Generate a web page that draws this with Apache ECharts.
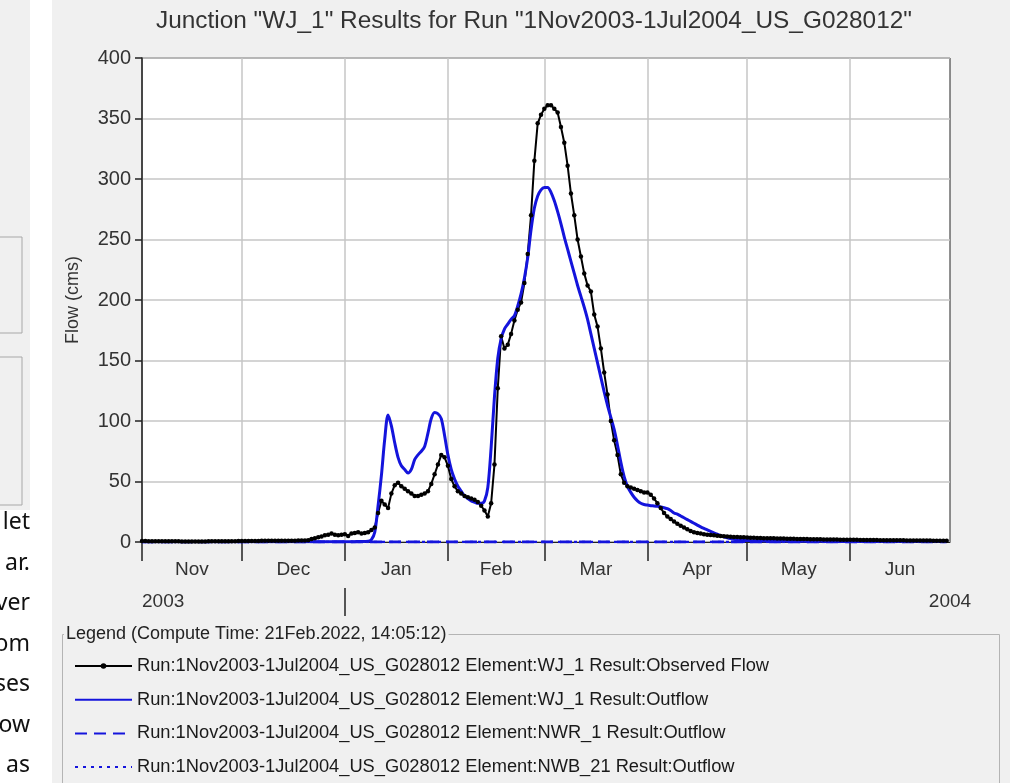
<!DOCTYPE html>
<html>
<head>
<meta charset="utf-8">
<script src="https://cdn.jsdelivr.net/npm/echarts@6/dist/echarts.min.js"></script>
<style>
  html, body { margin: 0; padding: 0; background: #fff; }
  #main { width: 1015px; height: 783px; }
</style>
</head>
<body>
<div id="main"></div>
<script>
// Daily flows (cms) from 1 Nov 2003 to 30 Jun 2004, one value per day.
const firstDay = [2003, 10, 1];

const observedFlow = [
  // Nov
  0.8,0.8,0.7,0.7,0.7,0.6,0.6,0.6,0.6,0.6,0.6,0.6,0.5,0.5,0.5,0.5,0.5,0.5,0.5,0.5,0.6,0.6,0.6,0.6,0.6,0.6,0.7,0.7,0.7,0.8,
  // Dec
  0.8,0.8,0.8,0.9,0.9,0.9,1,1,1,1,1,1,1,1,1,1.1,1.1,1.2,1.2,1.3,1.5,2.5,3,4,4.5,5.5,6,7,6,5.5,6,
  // Jan
  6.5,5,7,7.5,8,7,7.5,8,10,12,24,34,31,28,40,47,49,46,44,42,40,38,38,39,40,42,48,56,64,72,70,
  // Feb
  63,52,46,42,40,38,37,36,35,33,30,26,21,32,64,127,170,160,163,172,183,192,198,214,238,270,315,346,353,
  // Mar
  358,361,361,358,355,343,330,311,288,270,250,236,222,212,207,188,178,160,140,122,100,84,72,56,49,46,45,44,43,42,41,
  // Apr
  41,39,36,32,28,24,21,19,17,15,13.5,12,10.5,9,8,7.5,7,6.5,6,5.8,5.5,5.2,5,4.8,4.5,4.3,4.2,4.1,4,4,
  // May
  3.8,3.6,3.5,3.4,3.3,3.2,3.1,3,3,2.9,2.8,2.8,2.7,2.6,2.6,2.5,2.5,2.4,2.4,2.3,2.3,2.2,2.2,2.1,2.1,2,2,2,1.9,1.9,1.9,
  // Jun
  1.8,1.8,1.8,1.7,1.7,1.7,1.6,1.6,1.6,1.5,1.5,1.5,1.5,1.4,1.4,1.4,1.4,1.3,1.3,1.3,1.3,1.2,1.2,1.2,1.2,1.1,1.1,1.1,1.1,1.0
];

const wj1Outflow = [
  // Nov
  0.2,0.2,0.2,0.2,0.2,0.2,0.2,0.2,0.2,0.2,0.2,0.2,0.2,0.2,0.2,0.2,0.2,0.2,0.2,0.2,0.2,0.2,0.2,0.2,0.2,0.2,0.2,0.2,0.2,0.2,
  // Dec
  0.2,0.2,0.2,0.2,0.2,0.2,0.2,0.2,0.2,0.2,0.2,0.2,0.2,0.2,0.2,0.2,0.2,0.2,0.2,0.2,0.2,0.2,0.2,0.2,0.3,0.3,0.3,0.3,0.3,0.3,0.3,
  // Jan
  0.3,0.3,0.3,0.3,0.4,0.4,0.5,0.6,2,8,30,55,85,105,96,82,70,63,60,57,60,68,72,75,79,90,102,107,106,102,88,
  // Feb
  72,60,52,46,42,38,36,34,33,32,32,34,45,78,120,152,168,176,180,184,187,195,205,218,235,258,276,286,291,
  // Mar
  293,293,289,282,273,263,252,242,232,222,212,203,194,184,172,160,148,136,124,113,103,93,80,66,54,46,41,37,34,32,31,
  // Apr
  30.5,30,29.8,29.5,29,28.3,27.5,26,24,23,21.5,20,18.5,17,15.5,14,12.5,11.2,10,8.8,7.6,6.4,5.3,4.3,3.5,2.8,2.2,1.8,1.5,1.3,
  // May
  1.2,1.1,1.1,1.0,1.0,0.9,0.9,0.9,0.8,0.8,0.8,0.8,0.7,0.7,0.7,0.7,0.7,0.6,0.6,0.6,0.6,0.6,0.6,0.5,0.5,0.5,0.5,0.5,0.5,0.5,0.5,
  // Jun
  0.4,0.4,0.4,0.4,0.4,0.4,0.4,0.4,0.4,0.4,0.4,0.4,0.4,0.4,0.4,0.4,0.4,0.4,0.4,0.4,0.4,0.4,0.4,0.4,0.4,0.4,0.4,0.4,0.4,0.4
];

const nwr1Outflow = [
  0,0,0,0,0,0,0,0,0,0,0,0,0,0,0,0,0,0,0,0,0,0,0,0,0,0,0,0,0,0,
  0,0,0,0,0,0,0,0,0,0,0,0,0,0,0,0,0,0,0,0,0,0,0,0,0,0,0,0,0,0,0,
  0,0,0,0,0,0,0,0,0,0,0,0,0,0,0,0,0,0,0,0,0,0,0,0,0,0,0,0,0,0,0,
  0,0,0,0,0,0,0,0,0,0,0,0,0,0,0,0,0,0,0,0,0,0,0,0,0,0,0,0,0,
  0,0,0,0,0,0,0,0,0,0,0,0,0,0,0,0,0,0,0,0,0,0,0,0,0,0,0,0,0,0,0,
  0,0,0,0,0,0,0,0,0,0,0,0,0,0,0,0,0,0,0,0,0,0,0,0,0,0,0,0,0,0,
  0,0,0,0,0,0,0,0,0,0,0,0,0,0,0,0,0,0,0,0,0,0,0,0,0,0,0,0,0,0,0,
  0,0,0,0,0,0,0,0,0,0,0,0,0,0,0,0,0,0,0,0,0,0,0,0,0,0,0,0,0,0
];

const nwb21Outflow = [
  0,0,0,0,0,0,0,0,0,0,0,0,0,0,0,0,0,0,0,0,0,0,0,0,0,0,0,0,0,0,
  0,0,0,0,0,0,0,0,0,0,0,0,0,0,0,0,0,0,0,0,0,0,0,0,0,0,0,0,0,0,0,
  0,0,0,0,0,0,0,0,0,0,0,0,0,0,0,0,0,0,0,0,0,0,0,0,0,0,0,0,0,0,0,
  0,0,0,0,0,0,0,0,0,0,0,0,0,0,0,0,0,0,0,0,0,0,0,0,0,0,0,0,0,
  0,0,0,0,0,0,0,0,0,0,0,0,0,0,0,0,0,0,0,0,0,0,0,0,0,0,0,0,0,0,0,
  0,0,0,0,0,0,0,0,0,0,0,0,0,0,0,0,0,0,0,0,0,0,0,0,0,0,0,0,0,0,
  0,0,0,0,0,0,0,0,0,0,0,0,0,0,0,0,0,0,0,0,0,0,0,0,0,0,0,0,0,0,0,
  0,0,0,0,0,0,0,0,0,0,0,0,0,0,0,0,0,0,0,0,0,0,0,0,0,0,0,0,0,0
];

const seriesNames = [
  'Run:1Nov2003-1Jul2004_US_G028012 Element:WJ_1 Result:Observed Flow',
  'Run:1Nov2003-1Jul2004_US_G028012 Element:WJ_1 Result:Outflow',
  'Run:1Nov2003-1Jul2004_US_G028012 Element:NWR_1 Result:Outflow',
  'Run:1Nov2003-1Jul2004_US_G028012 Element:NWB_21 Result:Outflow'
];

// Axis labelling
const monthLabels = ['Nov', 'Dec', 'Jan', 'Feb', 'Mar', 'Apr', 'May', 'Jun'];
const monthStarts = [[2003,10,1],[2003,11,1],[2004,0,1],[2004,1,1],[2004,2,1],[2004,3,1],[2004,4,1],[2004,5,1]];
const periodEnd = [2004, 6, 1];
const yearLabels = ['2003', '2004'];
const yearBreak = [2004, 0, 1];
const yTicks = [0, 50, 100, 150, 200, 250, 300, 350, 400];

const chartTitle = 'Junction "WJ_1" Results for Run "1Nov2003-1Jul2004_US_G028012"';
const legendTitle = 'Legend (Compute Time: 21Feb.2022, 14:05:12)';
const sideText = ['let', 'ar.', 'ver', 'om', 'ses', 'ow', 'as'];

// ---------------------------------------------------------------------------
// Time is carried as epoch milliseconds on a plain value axis so that the
// month boundaries and mid-month labels can be placed explicitly.
const t = (a) => new Date(a[0], a[1], a[2]).getTime();
const dayTime = (i) => new Date(firstDay[0], firstDay[1], firstDay[2] + i).getTime();
const toPairs = (arr) => arr.map((v, i) => [dayTime(i), v]);

const tMin = t(firstDay);
const tMax = t(periodEnd);
const tickTimes = monthStarts.map(t);
const bounds = tickTimes.concat([tMax]);
const midTimes = monthStarts.map((m, i) => (bounds[i] + bounds[i + 1]) / 2);

const FONT = '"Liberation Sans", Arial, sans-serif';
const BLUE = '#1414dc';
const GRIDLINE = '#c6c6c6';

const chart = echarts.init(document.getElementById('main'), null, { renderer: 'canvas' });

const graphics = [
  // surrounding page pieces
  { type: 'rect', z: -100, shape: { x: 0, y: 0, width: 30, height: 510 }, style: { fill: '#f0f0f0' } },
  { type: 'rect', z: -99, shape: { x: -2, y: 237, width: 24, height: 96 }, style: { fill: '#f0f0f0', stroke: '#a8a8a8', lineWidth: 1 } },
  { type: 'rect', z: -99, shape: { x: -2, y: 357, width: 24, height: 148 }, style: { fill: '#f0f0f0', stroke: '#a8a8a8', lineWidth: 1 } },
  // chart panel
  { type: 'rect', z: -100, shape: { x: 52, y: 0, width: 958, height: 783 }, style: { fill: '#f0f0f0' } },
  // legend frame
  { type: 'rect', z: 5, shape: { x: 62.5, y: 634.5, width: 937, height: 170 }, style: { fill: 'none', stroke: '#b4b4b4', lineWidth: 1 } },
  { type: 'text', z: 6, x: 64, y: 625, style: { text: legendTitle, font: '18px ' + FONT, fill: '#222', backgroundColor: '#f0f0f0', padding: [0, 2, 0, 2] } }
];
sideText.forEach((s, i) => {
  graphics.push({ type: 'text', z: 6, x: 30, y: 511 + i * 40.5,
    style: { text: s, font: '23px "Noto Sans", sans-serif', fill: '#111', align: 'right' } });
});

// line-only legend samples for the simulated series
const hideMarker = { opacity: 0 };

const option = {
  animation: false,
  backgroundColor: '#fff',
  graphic: graphics,
  title: {
    text: chartTitle,
    left: 151, top: 4,
    textStyle: { fontFamily: FONT, fontSize: 24.4, fontWeight: 'normal', color: '#333' }
  },
  legend: {
    orient: 'vertical',
    left: 69, top: 652,
    itemWidth: 57, itemHeight: 7, itemGap: 15.7,
    textStyle: { fontFamily: FONT, fontSize: 18.3, color: '#1a1a1a' },
    data: [
      { name: seriesNames[0] },
      { name: seriesNames[1], itemStyle: hideMarker },
      { name: seriesNames[2], itemStyle: hideMarker },
      { name: seriesNames[3], itemStyle: hideMarker }
    ]
  },
  grid: {
    left: 142, right: 65, top: 58, bottom: 241,
    show: true, backgroundColor: '#fff', borderColor: '#222', borderWidth: 1
  },
  xAxis: [
    {
      type: 'value', min: tMin, max: tMax,
      axisLine: { show: true, onZero: false, lineStyle: { color: '#222', width: 1 } },
      axisTick: { show: true, customValues: tickTimes, length: 19, lineStyle: { color: '#222', width: 1.5 } },
      axisLabel: {
        customValues: midTimes, margin: 18,
        fontFamily: FONT, fontSize: 19, color: '#333',
        formatter: (v) => monthLabels[midTimes.indexOf(v)]
      },
      splitLine: { show: true, lineStyle: { color: GRIDLINE, width: 1.5 } }
    },
    {
      type: 'value', min: tMin, max: tMax, position: 'bottom', offset: 46,
      axisLine: { show: false, onZero: false },
      axisTick: { show: true, customValues: [t(yearBreak)], length: 28, lineStyle: { color: '#222', width: 1.5 } },
      axisLabel: {
        customValues: [tMin, tMax], margin: 4,
        alignMinLabel: 'left', alignMaxLabel: 'center',
        fontFamily: FONT, fontSize: 19, color: '#333',
        formatter: (v) => (v === tMin ? yearLabels[0] : yearLabels[1])
      },
      splitLine: { show: false }
    }
  ],
  yAxis: {
    type: 'value', min: yTicks[0], max: yTicks[yTicks.length - 1], interval: 50,
    name: 'Flow (cms)', nameLocation: 'middle', nameGap: 60,
    nameTextStyle: { fontFamily: FONT, fontSize: 18, color: '#333' },
    axisLine: { show: true, lineStyle: { color: '#222', width: 1.5 } },
    axisTick: { show: true, length: 7, lineStyle: { color: '#222', width: 1.5 } },
    axisLabel: { margin: 11, fontFamily: FONT, fontSize: 20, color: '#333' },
    splitLine: { show: true, lineStyle: { color: GRIDLINE, width: 1.5 } }
  },
  series: [
    {
      name: seriesNames[0], type: 'line', xAxisIndex: 0,
      data: toPairs(observedFlow),
      symbol: 'circle', symbolSize: 4.5, showAllSymbol: true,
      itemStyle: { color: '#000' },
      lineStyle: { color: '#000', width: 2 }
    },
    {
      name: seriesNames[1], type: 'line', xAxisIndex: 0,
      data: toPairs(wj1Outflow), symbol: 'none', smooth: 0.3,
      itemStyle: { color: BLUE },
      lineStyle: { color: BLUE, width: 3 }
    },
    {
      name: seriesNames[2], type: 'line', xAxisIndex: 0,
      data: toPairs(nwr1Outflow), symbol: 'none',
      itemStyle: { color: BLUE },
      lineStyle: { color: BLUE, width: 3, type: [12, 7] }
    },
    {
      name: seriesNames[3], type: 'line', xAxisIndex: 0,
      data: toPairs(nwb21Outflow), symbol: 'none',
      itemStyle: { color: BLUE },
      lineStyle: { color: BLUE, width: 2.5, type: [3, 5] }
    }
  ]
};

chart.setOption(option);
</script>
</body>
</html>
